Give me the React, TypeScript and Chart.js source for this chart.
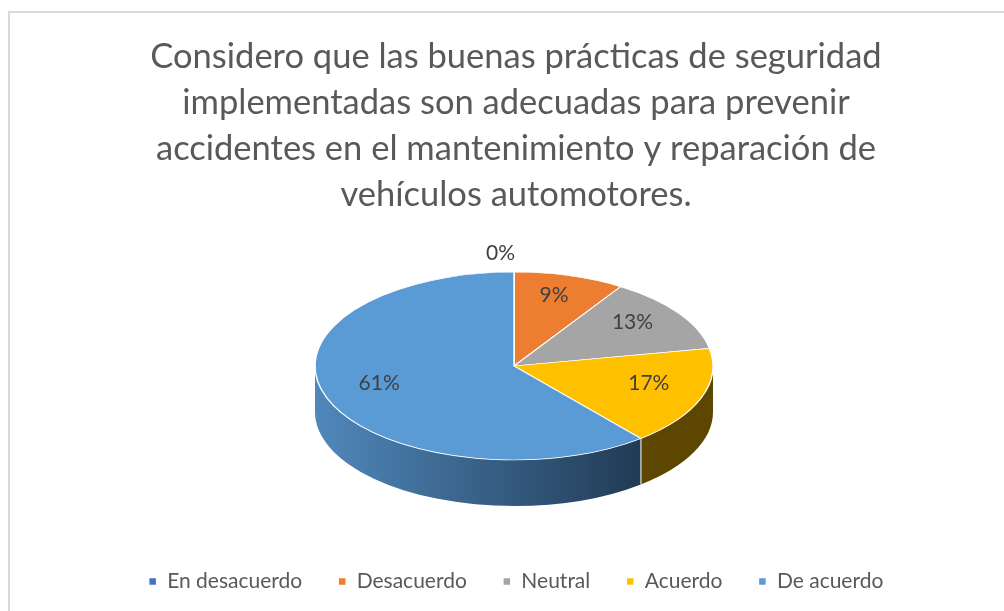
import React, { useEffect, useRef } from "react";
import { Chart, registerables } from "chart.js";

Chart.register(...registerables);

// ---- data ----
const categories = ["En desacuerdo", "Desacuerdo", "Neutral", "Acuerdo", "De acuerdo"];
const values = [0, 9, 13, 17, 61];
const valueLabels = ["0%", "9%", "13%", "17%", "61%"];
const topColors = ["#4472C4", "#ED7D31", "#A5A5A5", "#FFC000", "#5B9BD5"];
const sideLight = ["#2f4f88", "#a0521e", "#707070", "#654d00", "#5088bb"];
const sideDark = ["#223a66", "#7a3d15", "#525252", "#5c4600", "#213a54"];
const titleLines = [
  "Considero que las buenas prácticas de seguridad",
  "implementadas son adecuadas para prevenir",
  "accidentes en el mantenimiento y reparación de",
  "vehículos automotores.",
];

// ---- geometry / style ----
const CX = 514;
const CY = 366;
const RX = 199;
const RY = 94;
const DEPTH = 46;
const FONT = "Lato, 'Noto Sans', sans-serif";
const TITLE_SIZE = 34.5;

const pie3d = {
  id: "pie3d",
  beforeDraw(chart: any) {
    const ctx = chart.ctx;
    ctx.save();
    ctx.fillStyle = "#ffffff";
    ctx.fillRect(0, 0, chart.width, chart.height);
    ctx.strokeStyle = "#d9d9d9";
    ctx.lineWidth = 2;
    ctx.strokeRect(9, 12, 1200, 800);
    ctx.restore();
  },
  beforeDatasetsDraw(chart: any) {
    const ctx = chart.ctx;
    const meta = chart.getDatasetMeta(0);
    const arcs = meta.data;
    if (!arcs.length) return;
    // side walls
    ctx.save();
    arcs.forEach((arc: any, i: number) => {
      const s = arc.startAngle;
      const e = arc.endAngle;
      const a1 = Math.max(s, 0);
      const a2 = Math.min(e, Math.PI);
      if (a2 <= a1) return;
      ctx.beginPath();
      ctx.ellipse(CX, CY, RX, RY, 0, a1, a2, false);
      ctx.lineTo(CX + RX * Math.cos(a2), CY + RY * Math.sin(a2) + DEPTH);
      ctx.ellipse(CX, CY + DEPTH, RX, RY, 0, a2, a1, true);
      ctx.closePath();
      const g = ctx.createLinearGradient(CX - RX, 0, CX + RX * 0.65, 0);
      g.addColorStop(0, sideLight[i]);
      g.addColorStop(0.45, mix(sideLight[i], sideDark[i], 0.45));
      g.addColorStop(1, sideDark[i]);
      ctx.fillStyle = g;
      ctx.fill();
      // edge lines between slices on the side
      ctx.strokeStyle = "rgba(255,255,255,0.75)";
      ctx.lineWidth = 1;
      [a1, a2].forEach((a) => {
        if (a > 0.001 && a < Math.PI - 0.001) {
          ctx.beginPath();
          ctx.moveTo(CX + RX * Math.cos(a), CY + RY * Math.sin(a));
          ctx.lineTo(CX + RX * Math.cos(a), CY + RY * Math.sin(a) + DEPTH);
          ctx.stroke();
        }
      });
    });
    ctx.restore();
    // squash the top surface into an ellipse
    const a0 = arcs[0];
    const r = a0.outerRadius || RX;
    ctx.save();
    ctx.translate(CX, CY);
    ctx.scale(RX / r, RY / r);
    ctx.translate(-a0.x, -a0.y);
  },
  afterDatasetsDraw(chart: any) {
    const ctx = chart.ctx;
    const meta = chart.getDatasetMeta(0);
    const arcs = meta.data;
    if (!arcs.length) return;
    ctx.restore();
    ctx.save();
    ctx.font = `21px ${FONT}`;
    ctx.fillStyle = "#404040";
    ctx.textBaseline = "middle";
    arcs.forEach((arc: any, i: number) => {
      const mid = (arc.startAngle + arc.endAngle) / 2;
      const v = values[i];
      if (v === 0) {
        ctx.textAlign = "right";
        ctx.fillText(valueLabels[i], CX + 1, CY + RY * 1.2 * Math.sin(mid));
      } else {
        const f = 0.72;
        ctx.textAlign = "center";
        ctx.fillText(
          valueLabels[i],
          CX + RX * f * Math.cos(mid),
          CY + RY * f * Math.sin(mid) - 6
        );
      }
    });
    ctx.restore();
  },
};

function mix(a: string, b: string, t: number) {
  const pa = [1, 3, 5].map((k) => parseInt(a.slice(k, k + 2), 16));
  const pb = [1, 3, 5].map((k) => parseInt(b.slice(k, k + 2), 16));
  const c = pa.map((x, j) => Math.round(x + (pb[j] - x) * t));
  return "#" + c.map((x) => x.toString(16).padStart(2, "0")).join("");
}

export default function App() {
  const ref = useRef<HTMLCanvasElement>(null);
  useEffect(() => {
    if (!ref.current) return;
    const chart = new Chart(ref.current, {
      type: "pie",
      data: {
        labels: categories,
        datasets: [
          {
            data: values,
            backgroundColor: topColors,
            borderColor: "#ffffff",
            borderWidth: 1.5,
            radius: RX,
            clip: false,
          } as any,
        ],
      },
      options: {
        responsive: false,
        animation: false,
        devicePixelRatio: 1,
        events: [],
        layout: { padding: { left: 28, right: 0, top: 12, bottom: 9 } },
        plugins: {
          title: {
            display: true,
            text: titleLines,
            color: "#595959",
            font: { family: FONT, size: TITLE_SIZE, weight: "normal", lineHeight: 46 / TITLE_SIZE },
            padding: { top: 22, bottom: 10 },
          },
          legend: {
            display: true,
            position: "bottom",
            labels: {
              color: "#595959",
              font: { family: FONT, size: 21 },
              boxWidth: 8,
              boxHeight: 8,
              padding: 36,
            },
          },
          tooltip: { enabled: false },
        },
      },
      plugins: [pie3d],
    });
    return () => chart.destroy();
  }, []);
  return (
    <div style={{ position: "absolute", left: 0, top: 0, width: 1004, height: 611, background: "#fff" }}>
      <canvas ref={ref} width={1004} height={611} style={{ display: "block" }} />
    </div>
  );
}
